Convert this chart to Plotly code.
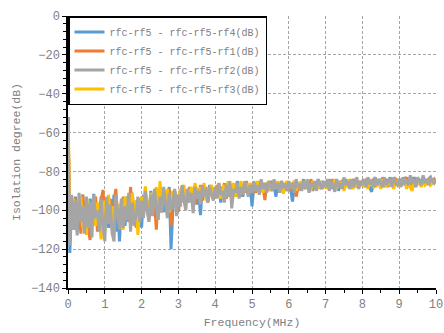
import plotly.graph_objects as go

# Sampling step of the frequency axis (MHz)
FREQ_STEP_MHZ = 0.05

series_names = [
    "rfc-rf5 - rfc-rf5-rf4(dB)",
    "rfc-rf5 - rfc-rf5-rf1(dB)",
    "rfc-rf5 - rfc-rf5-rf2(dB)",
    "rfc-rf5 - rfc-rf5-rf3(dB)",
]

rf4_db = [
    -52, -122, -95, -108, -93, -111, -97, -104, -92, -109, -96, -112, -94, -105, -91.5, -107, -99, -110, -93, -106,
    -101, -94, -109, -96, -104, -92, -111, -97, -116, -95, -103, -108, -93, -106, -99, -91, -107, -96, -102, -94,
    -109, -92, -100, -95, -104, -90, -98, -93, -102, -89, -97, -94, -101, -91, -96, -88, -120, -99, -90, -95,
    -93, -98, -88, -94, -91, -96, -89, -95, -92, -87, -97, -90, -102.5, -88, -93, -89, -95, -87, -91, -94,
    -89, -92, -87, -96, -90, -88, -93, -86, -91, -89, -87, -92, -85, -90, -88, -93, -86, -89, -91, -87,
    -98, -88, -86, -90, -85, -89, -87, -91, -86, -88, -85, -90, -87, -93, -86, -89, -85, -88, -87, -90,
    -86, -89, -95.5, -87, -85, -90, -86, -88, -84, -89, -86, -87, -85, -90, -86, -88, -84, -89, -85, -87,
    -86, -88, -84, -89, -85, -87, -84, -90, -86, -85, -88, -84, -87, -85, -89, -84, -86, -88, -85, -87,
    -85, -87, -84, -86, -88, -90.5, -85, -83, -87, -84, -86, -85, -88, -84, -87, -83, -86, -85, -87, -84,
    -86, -84, -87, -83, -85, -86, -84, -88, -83, -85, -86, -84, -87, -83, -85, -86, -84, -83, -86, -85,
    -85,
]

rf1_db = [
    -52, -105, -97, -110, -94, -107, -99, -112, -92, -104, -96, -109, -115.3, -98, -106, -93, -111, -100, -95, -89.5,
    -107, -97, -103, -94, -110, -96, -89, -105, -99, -108, -93, -104, -98, -106, -88, -101, -95, -109, -97, -102,
    -94, -103, -91, -99, -105, -93, -100, -96, -110, -92, -98, -101, -90, -95, -99, -89, -108, -94, -91, -97,
    -100.7, -93, -89, -96, -91, -95, -88, -94, -90, -97, -89, -93, -87, -95, -90, -88, -96, -91, -89, -94,
    -90, -87, -93, -88, -91, -86, -94, -89, -87, -92, -88, -90, -86, -93, -89, -87, -91, -85, -90, -88,
    -89, -86, -91, -87, -89, -85, -88, -94.7, -86, -90, -87, -85, -89, -88, -86, -91, -85, -89, -87, -88,
    -86, -90, -87, -85, -93, -88, -86, -89, -85, -88, -87, -90, -84, -88, -86, -89, -85, -87, -89, -86,
    -87, -85, -88, -86, -84, -89, -86, -88, -85, -87, -84, -88, -86, -85, -87, -84, -88, -85, -87, -86,
    -85, -88, -84, -87, -85, -86, -84, -88, -85, -86, -87, -83, -86, -85, -88, -84, -86, -87, -84, -85,
    -87, -84, -86, -85, -83, -87, -85, -84, -86, -88, -84, -85, -87, -83, -86, -85, -84, -87, -85, -84,
    -86,
]

rf2_db = [
    -52, -118, -92, -110, -95, -113, -91, -106, -98, -112, -93, -109, -96, -114, -92, -104, -100, -111, -94, -108,
    -116, -93, -107, -97, -112, -116, -92, -103, -110, -94, -109, -98, -105, -91, -111, -96, -108, -102, -93, -106,
    -95, -104, -90, -100, -106, -92, -103, -89, -99, -105, -93, -101, -88, -97, -104, -91, -100, -96, -89, -103,
    -92, -98, -87, -95, -100, -89, -96, -91, -101.5, -88, -94, -90, -97, -87, -93, -89, -96, -88, -92, -95,
    -88, -94, -86, -92, -90, -96, -87, -93, -85, -99, -89, -91, -86, -94, -88, -92, -85, -90, -93, -87,
    -91, -85, -90, -87, -92, -84, -89, -86, -91, -85, -88, -90, -84, -89, -86, -91, -85, -88, -87, -90,
    -85, -89, -86, -91, -84, -88, -87, -90, -85, -89, -84, -91, -86, -88, -85, -90, -84, -87, -89, -85,
    -88, -84, -90, -85, -87, -90.5, -84, -88, -86, -89, -83, -87, -85, -89, -84, -88, -86, -83, -89, -85,
    -87, -84, -88, -83, -86, -85, -88, -83, -87, -84, -86, -88, -83, -87, -85, -84, -88, -83, -86, -87,
    -84, -88, -83, -86, -85, -87, -82, -86, -84, -88, -83, -85, -87, -82, -86, -84, -87, -83, -85, -86,
    -84,
]

rf3_db = [
    -52, -100, -108, -94, -110, -97, -105, -93, -109, -98, -112.7, -95, -106, -101, -93, -108, -96, -104, -115, -99,
    -95, -107, -92, -103, -98, -109, -94, -101, -97, -106, -110, -93, -104, -96, -100, -91, -107, -95, -112.7, -98,
    -93, -100, -87.7, -97, -102, -91, -99, -94, -88, -105, -85, -98, -92, -96, -89, -101, -94, -90, -97, -92,
    -96, -89, -93, -87, -95, -90, -92, -88, -97, -86, -91, -94, -88, -92, -86, -95, -89, -90, -87, -93,
    -88, -91, -86, -94, -89, -87, -92, -85, -90, -88, -86, -93, -87, -89, -85, -91, -88, -87, -90, -86,
    -88, -86, -90, -85, -89, -87, -91, -86, -88, -85, -90, -87, -86, -89, -85, -88, -86, -91.5, -87, -85,
    -89, -86, -88, -85, -90, -87, -86, -89, -85, -88, -86, -87, -90, -85, -88, -86, -89, -85, -87, -88,
    -86, -89, -85, -87, -88, -84, -89, -86, -87, -85, -90, -86, -88, -84, -87, -89, -85, -88, -86, -87,
    -85, -88, -86, -89, -84, -87, -88, -85, -87, -86, -89, -84, -86, -88, -85, -87, -84, -89, -86, -85,
    -88, -85, -87, -84, -89, -86, -88, -90, -85, -87, -84, -86, -88, -85, -87, -86, -84, -87, -86, -85,
    -86,
]

x_tick_vals = [0, 1, 2, 3, 4, 5, 6, 7, 8, 9, 10]
y_tick_vals = [0, -20, -40, -60, -80, -100, -120, -140]

colors = {"rf4": "#5B9BD5", "rf1": "#ED7D31", "rf2": "#A5A5A5", "rf3": "#FFC000"}

def freqs(values):
    return [round(i * FREQ_STEP_MHZ, 4) for i in range(len(values))]

FONT = "Liberation Mono"
TXT = "#808080"

fig = go.Figure()
# draw order: blue, orange, yellow, grey (grey on top); legend order kept via legendrank
traces = [
    (rf4_db, series_names[0], colors["rf4"], 1),
    (rf1_db, series_names[1], colors["rf1"], 2),
    (rf3_db, series_names[3], colors["rf3"], 4),
    (rf2_db, series_names[2], colors["rf2"], 3),
]
for vals, name, col, rank in traces:
    fig.add_trace(go.Scatter(
        x=freqs(vals), y=vals, mode="lines", name=name,
        line=dict(color=col, width=3), legendrank=rank,
    ))

fig.update_layout(
    width=444, height=333,
    margin=dict(l=68, r=8, t=16, b=45, autoexpand=False),
    paper_bgcolor="white", plot_bgcolor="white",
    font=dict(family=FONT, size=12, color=TXT),
    showlegend=True,
    legend=dict(
        x=0, y=1, xanchor="left", yanchor="top",
        bgcolor="white", bordercolor="black", borderwidth=1.5,
        font=dict(family=FONT, size=10, color=TXT),
        itemwidth=30, tracegroupgap=0,
    ),
)
fig.update_xaxes(
    range=[0, 10], tickvals=x_tick_vals, automargin=False,
    showline=True, linecolor="black", linewidth=1.5,
    showgrid=True, gridcolor="#a6a6a6", griddash="3px,2px", gridwidth=1,
    zeroline=False, ticks="outside", ticklen=4, tickcolor="black",
    minor=dict(dtick=0.5, ticks="outside", ticklen=3, tickcolor="black", showgrid=False),
    title=dict(text="Frequency(MHz)", font=dict(family=FONT, size=11.5, color=TXT), standoff=7),
    tickfont=dict(family=FONT, size=12, color=TXT),
)
fig.update_yaxes(
    range=[-140, 0], tickvals=y_tick_vals, automargin=False,
    showline=True, linecolor="black", linewidth=1.5,
    showgrid=True, gridcolor="#a6a6a6", griddash="3px,2px", gridwidth=1,
    zeroline=False, ticks="outside", ticklen=4, tickcolor="black",
    minor=dict(dtick=4, ticks="outside", ticklen=3, tickcolor="black", showgrid=False),
    title=dict(text="Isolation degree(dB)", font=dict(family=FONT, size=11.5, color=TXT), standoff=8),
    tickfont=dict(family=FONT, size=12, color=TXT),
)

fig.write_html(
    "out.html",
    config={"displayModeBar": False},
    post_script="document.body.style.margin='0';document.body.style.overflow='hidden';",
)
